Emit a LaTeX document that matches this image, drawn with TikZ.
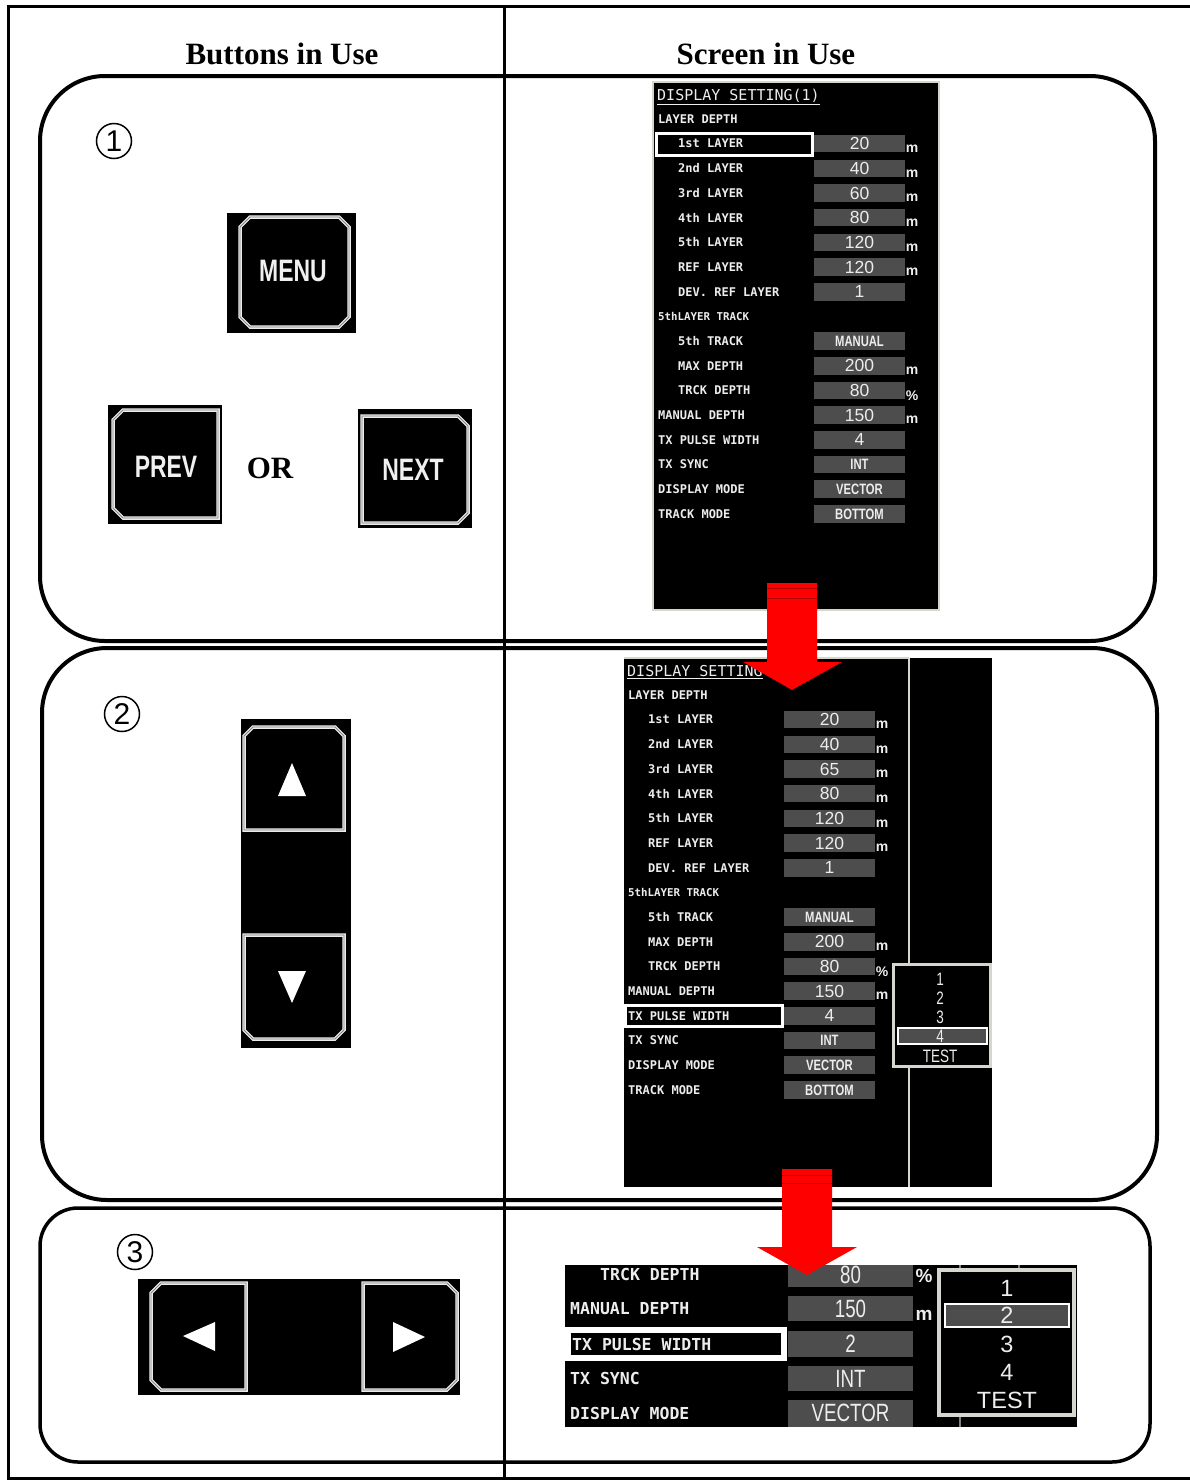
\documentclass[tikz,border=0pt]{standalone}
\usepackage{fontspec}
\setmainfont{Liberation Serif}
\newfontfamily\monofont{DejaVu Sans Mono}
\newfontfamily\valfont{Liberation Sans}
\newfontfamily\narfont[FakeStretch=0.75]{Liberation Sans}
\newfontfamily\btnfont[FakeStretch=0.74]{Liberation Sans}
\definecolor{valgray}{HTML}{4D4D4D}
\definecolor{txtw}{HTML}{EDEDED}
\definecolor{bord}{HTML}{D6D6CE}
\definecolor{arrred}{HTML}{FF0000}
\definecolor{darkred}{HTML}{B00000}
\newcommand\vbf{\narfont\bfseries\fontsize{15}{15}\selectfont}
\newcommand\btnb[8]{%
  \draw[btnouter] ({#1+#5},#2) -- ({#3-#6},#2) -- (#3,{#2+#6}) -- (#3,{#4-#7}) -- ({#3-#7},#4) -- ({#1+#8},#4) -- (#1,{#4-#8}) -- (#1,{#2+#5}) -- cycle;
  \draw[btninner] ({#1+#5},#2) -- ({#3-#6},#2) -- (#3,{#2+#6}) -- (#3,{#4-#7}) -- ({#3-#7},#4) -- ({#1+#8},#4) -- (#1,{#4-#8}) -- (#1,{#2+#5}) -- cycle;
}
\newcommand\scrbody[5]{%
  \node[lbl] (#1hd) at (#2,#3) {LAYER DEPTH};
  \node[lbl,font=\monofont\bfseries\fontsize{10.8}{11}\selectfont] (#1trk) at (#2,{#3+24.68*8}) {5thLAYER TRACK};
  \foreach \k/\ind/\lab/\val/\un in {1/1/{1st LAYER}/20/m, 2/1/{2nd LAYER}/40/m, 3/1/{3rd LAYER}/#5/m, 4/1/{4th LAYER}/80/m, 5/1/{5th LAYER}/120/m, 6/1/{REF LAYER}/120/m, 7/1/{DEV. REF LAYER}/1/{}, 9/1/{5th TRACK}/{\vbf MANUAL}/{}, 10/1/{MAX DEPTH}/200/m, 11/1/{TRCK DEPTH}/80/\%, 12/0/{MANUAL DEPTH}/150/m, 13/0/{TX PULSE WIDTH}/4/{}, 14/0/{TX SYNC}/{\vbf INT}/{}, 15/0/{DISPLAY MODE}/{\vbf VECTOR}/{}, 16/0/{TRACK MODE}/{\vbf BOTTOM}/{}}{
    \pgfmathsetmacro\yy{#3+24.68*\k}
    \node[lbl] (#1l\k) at ({#2+20*\ind},\yy) {\lab};
    \node[valbox] (#1v\k) at (#4,\yy) {\val};
    \node[unitf] (#1u\k) at ({#4+52.5},{\yy+5}) {\un};
  }
}
\begin{document}
\begin{tikzpicture}[x=1pt,y=-1pt,
  frame/.style={line width=3,black},
  panel/.style={line width=4,black},
  hdr/.style={font=\bfseries\fontsize{31}{31}\selectfont},
  circnum/.style={circle,draw,line width=1.5,minimum size=35,inner sep=0,font=\valfont\fontsize{30}{30}\selectfont},
  btnouter/.style={draw=white!92!black,line width=3.5},
  btninner/.style={draw=gray,line width=0.8},
  btntxt/.style={text=white!94!black,inner sep=0,font=\btnfont\bfseries\fontsize{31}{31}\selectfont},
  lbl/.style={anchor=west,inner sep=0,text=txtw,font=\monofont\bfseries\fontsize{12}{12}\selectfont},
  lbl3/.style={anchor=west,inner sep=0,text=txtw,font=\monofont\bfseries\fontsize{16.5}{17}\selectfont},
  valbox/.style={fill=valgray,minimum width=91,minimum height=17.5,inner sep=0,text=txtw,font=\valfont\fontsize{17.5}{18}\selectfont},
  unitf/.style={inner sep=0,text=txtw,font=\valfont\bfseries\fontsize{14}{14}\selectfont},
  ttl/.style={anchor=base west,inner sep=0,text=txtw,font=\monofont\fontsize{15}{15}\selectfont},
  pop2/.style={inner sep=0,text=txtw,font=\narfont\fontsize{18}{18}\selectfont},
  pop3/.style={inner sep=0,text=txtw,font=\valfont\fontsize{23.5}{24}\selectfont},
  val3/.style={inner sep=0,text=txtw,font=\narfont\fontsize{25}{25}\selectfont},
  unit3/.style={inner sep=0,text=txtw,font=\valfont\bfseries\fontsize{19}{19}\selectfont},
  popbox/.style={fill=black,draw=bord},
  hlbox/.style={fill=black,draw=white},
]
\useasboundingbox (0,0) rectangle (1190,1481);
\fill[white] (0,0) rectangle (1190,1481);
% frame
\draw[frame] (1190,6) -- (8,6) -- (8,1478) -- (1190,1478);
\draw[frame] (504,6) -- (504,1478);
% panels
\draw[panel,rounded corners=65] (40,76) rectangle (1155,641);
\draw[panel,rounded corners=65] (42,648) rectangle (1157,1200);
\draw[line width=3.5,rounded corners=38] (40,1208) rectangle (1150,1462);
% headers
\node[hdr] (h1) at (282,54) {Buttons in Use};
\node[hdr] (h2) at (766,54) {Screen in Use};
% circled numbers
\node[circnum] (c1) at (114,141) {1};
\node[circnum] (c2) at (122,714) {2};
\node[circnum] (c3) at (135,1252) {3};
% ---- buttons step 1
\fill[black] (227,213) rectangle (356,333);
\btnb{240}{217}{349}{327}{10}{10}{10}{10}
\node[btntxt] (menu) at (293,271) {MENU};
\fill[black] (108,405) rectangle (222,524);
\btnb{113}{410}{218}{518}{10}{0}{0}{10}
\node[btntxt] (prev) at (166,467) {PREV};
\node[font=\bfseries\fontsize{31}{31}\selectfont] (or) at (270,468) {OR};
\fill[black] (358,409) rectangle (472,528);
\btnb{362}{416}{468}{523}{0}{10}{10}{0}
\node[btntxt] (next) at (413,470) {NEXT};
% ---- buttons step 2
\fill[black] (241,719) rectangle (351,1048);
\btnb{244}{727}{344}{830}{9}{9}{0}{0}
\fill[white] (278,796) -- (306,796) -- (292,763) -- cycle;
\btnb{244}{935}{344}{1039}{0}{0}{9}{9}
\fill[white] (278,971) -- (306,971) -- (292,1003) -- cycle;
% ---- buttons step 3
\fill[black] (138,1279) rectangle (460,1395);
\btnb{151}{1283}{246}{1390}{10}{0}{0}{10}
\fill[white] (183,1336) -- (215,1322) -- (215,1351) -- cycle;
\btnb{363}{1283}{457}{1390}{0}{10}{10}{0}
\fill[white] (425,1337) -- (393,1322) -- (393,1352) -- cycle;
% ---- screen 1
\fill[black] (653,82) rectangle (939,610);
\draw[bord,line width=1.2] (653,82) rectangle (939,610);
\node[ttl] (s1t) at (657,100.5) {\underline{DISPLAY SETTING(1)}};
\draw[hlbox,line width=3] (656.5,133.5) rectangle (812.5,155);
\scrbody{s1}{658}{119}{859.5}{60}
% ---- screen 2
\fill[black] (624,658) rectangle (992,1187);
\draw[bord,line width=1.2] (624,658) -- (909,658);
\draw[bord,line width=2] (909,658) -- (909,1187);
\node[ttl] (s2t) at (627,676.5) {\underline{DISPLAY SETTING}};
\draw[hlbox,line width=3] (625.5,1005.5) rectangle (782.5,1026.5);
\scrbody{s2}{628}{695}{829.5}{65}
\draw[popbox,line width=3] (893.5,964.5) rectangle (990,1066.5);
\draw[fill=valgray,draw=white,line width=1.5] (898,1028) rectangle (987,1044);
\node[pop2] (p21) at (940,979) {1};
\node[pop2] (p22) at (940,998) {2};
\node[pop2] (p23) at (940,1017) {3};
\node[pop2] (p24) at (940,1036) {4};
\node[pop2] (p25) at (940,1056) {TEST};
% ---- screen 3
\fill[black] (565,1265) rectangle (1077,1427);
\draw[gray,line width=2] (960,1265) -- (960,1427);
\draw[gray,line width=1.5] (1019,1265) -- (1019,1270);
\draw[hlbox,line width=6] (568,1330) rectangle (784,1358);
\foreach \ya/\yb in {1265/1287,1296/1321,1331/1357,1366/1391,1400/1427}
  \fill[valgray] (788,\ya) rectangle (913,\yb);
\node[lbl3] (s3l1) at (600,1274) {TRCK DEPTH};
\node[lbl3] (s3l2) at (570,1309) {MANUAL DEPTH};
\node[lbl3] (s3l3) at (572,1344) {TX PULSE WIDTH};
\node[lbl3] (s3l4) at (570,1378) {TX SYNC};
\node[lbl3] (s3l5) at (570,1413) {DISPLAY MODE};
\node[val3] (s3v1) at (850.5,1275) {80};
\node[val3] (s3v2) at (850.5,1309) {150};
\node[val3] (s3v3) at (850.5,1344) {2};
\node[val3] (s3v4) at (850.5,1379) {INT};
\node[val3] (s3v5) at (850.5,1413) {VECTOR};
\node[unit3] (s3u1) at (924,1276) {\%};
\node[unit3] (s3u2) at (924,1315) {m};
\draw[popbox,line width=4] (939,1270) rectangle (1074,1415);
\draw[fill=valgray,draw=white,line width=2] (945,1304) rectangle (1069,1327);
\node[pop3] (p31) at (1007,1288) {1};
\node[pop3] (p32) at (1007,1315.5) {2};
\node[pop3] (p33) at (1007,1344) {3};
\node[pop3] (p34) at (1007,1372) {4};
\node[pop3] (p35) at (1007,1400) {TEST};
% ---- red arrows
\fill[arrred] (767,583) -- (817,583) -- (817,662) -- (842,662) -- (792,690) -- (743,662) -- (767,662) -- cycle;
\draw[darkred,line width=1] (767,588.5) -- (817,588.5) (767,598.5) -- (817,598.5);
\fill[arrred] (782,1169) -- (832,1169) -- (832,1247) -- (857,1247) -- (807,1275) -- (757,1247) -- (782,1247) -- cycle;
\draw[darkred,line width=1] (782,1175.5) -- (832,1175.5) (782,1183.5) -- (832,1183.5);
\end{tikzpicture}
\end{document}
